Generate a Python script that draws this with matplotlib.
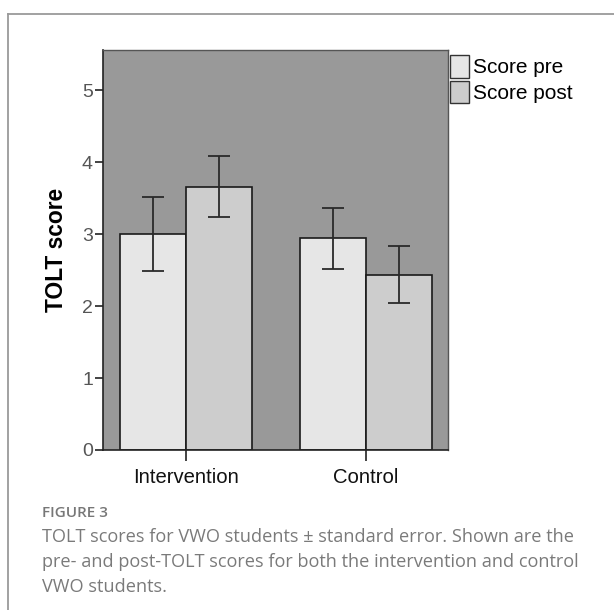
import numpy as np
import matplotlib
matplotlib.use("Agg")
import matplotlib.pyplot as plt
from matplotlib.lines import Line2D
from matplotlib.patches import Patch

# Data
groups = ["Intervention", "Control"]
score_pre = [3.00, 2.94]
score_post = [3.66, 2.43]
pre_err_low = [2.48, 2.51]
pre_err_high = [3.51, 3.36]
post_err_low = [3.24, 2.04]
post_err_high = [4.08, 2.83]
y_ticks = [0, 1, 2, 3, 4, 5]

plt.rcParams["font.family"] = ["Liberation Sans", "DejaVu Sans"]

fig = plt.figure(figsize=(6.14, 6.10), dpi=100)
fig.patch.set_facecolor("white")

# outer frame (only left and top visible in the crop)
fig.add_artist(Line2D([7.5 / 614, 7.5 / 614], [0, 1 - 13.5 / 610],
                      color="#9a9a9a", lw=1.3, transform=fig.transFigure))
fig.add_artist(Line2D([7.5 / 614, 1], [1 - 13.5 / 610, 1 - 13.5 / 610],
                      color="#9a9a9a", lw=1.3, transform=fig.transFigure))

ax = fig.add_axes([0.1673, 0.2623, 0.5623, 0.6557])
ax.set_facecolor("#999999")

x = np.arange(len(groups))
w = 0.367

ax.bar(x - w / 2, score_pre, width=w, color="#e6e6e6",
       edgecolor="#1a1a1a", linewidth=1.2, zorder=2)
ax.bar(x + w / 2, score_post, width=w, color="#cdcdcd",
       edgecolor="#1a1a1a", linewidth=1.2, zorder=2)

pre_err = [np.array(score_pre) - np.array(pre_err_low),
           np.array(pre_err_high) - np.array(score_pre)]
post_err = [np.array(score_post) - np.array(post_err_low),
            np.array(post_err_high) - np.array(score_post)]
ax.errorbar(x - w / 2, score_pre, yerr=pre_err, fmt="none",
            ecolor="#2a2a2a", elinewidth=1.3, capsize=8, capthick=1.3, zorder=3)
ax.errorbar(x + w / 2, score_post, yerr=post_err, fmt="none",
            ecolor="#2a2a2a", elinewidth=1.3, capsize=8, capthick=1.3, zorder=3)

ax.set_xlim(-0.4636, 1.458)
ax.set_ylim(0, 5.556)
ax.set_yticks(y_ticks)
ax.set_yticklabels([str(t) for t in y_ticks], fontsize=14, color="#555555")
ax.set_xticks(x)
ax.set_xticklabels(groups, fontsize=14.6, color="#111111")
ax.tick_params(axis="y", length=6, width=1.2, color="#222222", pad=1)
ax.tick_params(axis="x", length=8, width=1.2, color="#222222", pad=5)

for s in ["left", "bottom"]:
    ax.spines[s].set_color("#222222")
    ax.spines[s].set_linewidth(1.2)
for s in ["top", "right"]:
    ax.spines[s].set_color("#555555")
    ax.spines[s].set_linewidth(1.0)

ax.set_ylabel("TOLT score", fontsize=16.4, fontweight="bold", labelpad=10)

handles = [Patch(facecolor="#e6e6e6", edgecolor="#333333", lw=1),
           Patch(facecolor="#cdcdcd", edgecolor="#333333", lw=1)]
ax.legend(handles, ["Score pre", "Score post"], loc="upper left",
          bbox_to_anchor=(1.0, 0.993), frameon=False, fontsize=15,
          handlelength=0.9, handleheight=1.3, handletextpad=0.2,
          labelspacing=0.15, borderaxespad=0.1, borderpad=0.0)

# caption
fig.text(41.5 / 614, 1 - 513 / 610, "FIGURE 3", family="Open Sans",
         fontweight="semibold", fontsize=11, color="#777777", va="center")
caption = ("TOLT scores for VWO students \u00b1 standard error. Shown are the\n"
           "pre- and post-TOLT scores for both the intervention and control\n"
           "VWO students.")
fig.text(41.5 / 614, 1 - 528 / 610, caption, family="Open Sans",
         fontsize=13.1, color="#7a7a7a", va="top", linespacing=1.5)

fig.savefig("out.png", dpi=100)
